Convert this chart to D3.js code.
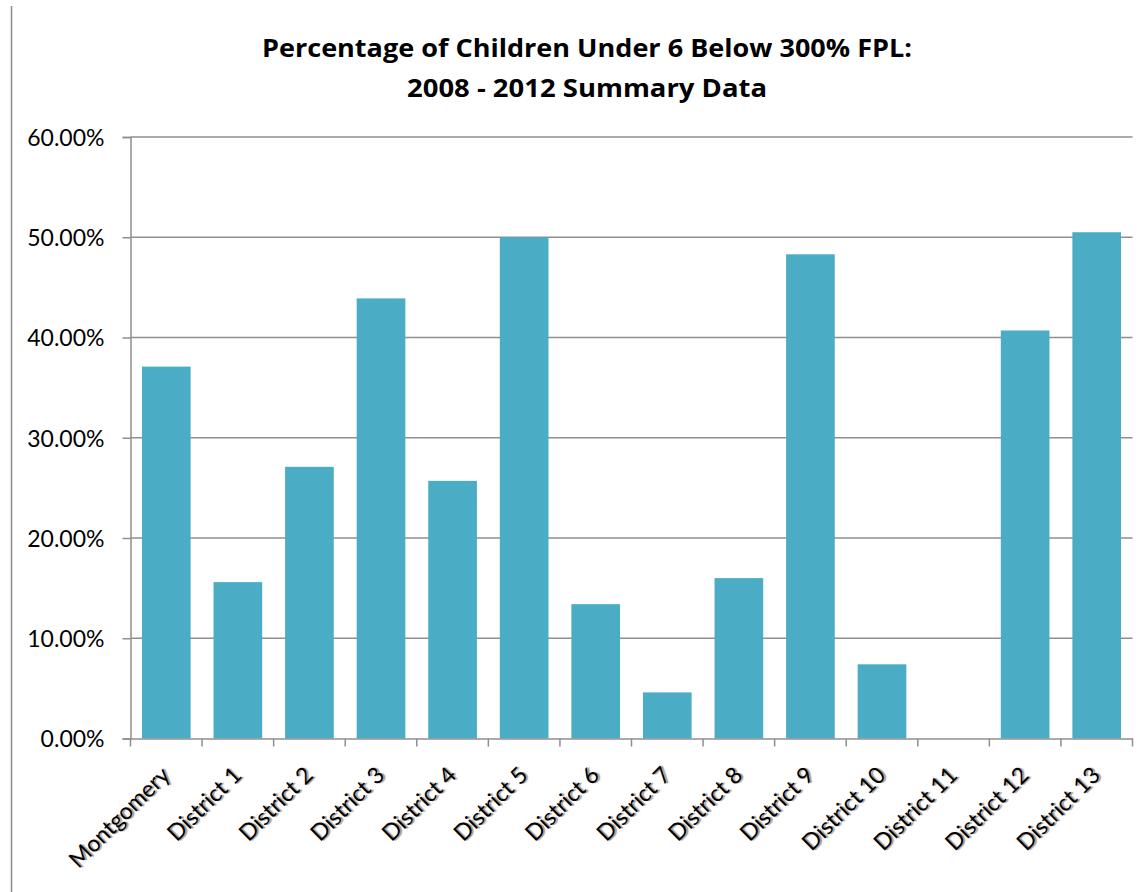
<!DOCTYPE html>
<html><head><meta charset="utf-8">
<script src="https://cdnjs.cloudflare.com/ajax/libs/d3/7.8.5/d3.min.js"></script>
<style>
body{margin:0;background:#fff;}
svg{display:block;}
.xl{text-shadow:1.5px 1.5px 1px rgba(0,0,0,0.4);}
</style></head>
<body><svg id="c" width="1145" height="892"></svg>
<script>
const categories = ["Montgomery","District 1","District 2","District 3","District 4","District 5","District 6","District 7","District 8","District 9","District 10","District 11","District 12","District 13"];
const values = [0.371,0.156,0.271,0.439,0.257,0.500,0.134,0.046,0.160,0.483,0.074,0,0.407,0.505];
const yTicks = [0,0.1,0.2,0.3,0.4,0.5,0.6];
const titleLines = ["Percentage of Children Under 6 Below 300% FPL:","2008 - 2012 Summary Data"];

const svg = d3.select("#c");
const font = "Lato, 'Open Sans', sans-serif";
const m = {left:130.5, right:1132.5, top:137, bottom:738.5};

// outer left border
svg.append("line").attr("x1",11.5).attr("x2",11.5).attr("y1",6).attr("y2",892)
  .attr("stroke","#8c8c8c").attr("stroke-width",1.5);

const x = d3.scaleBand().domain(categories).range([m.left,m.right]).paddingInner(0.32).paddingOuter(0.16);
const y = d3.scaleLinear().domain([0,0.6]).range([m.bottom,m.top]);

// gridlines
svg.append("g").selectAll("line").data(yTicks.filter(d=>d>0)).join("line")
  .attr("x1",m.left).attr("x2",m.right).attr("y1",d=>y(d)).attr("y2",d=>y(d))
  .attr("stroke","#8f8f8f").attr("stroke-width",1.5);

// bars
svg.append("g").selectAll("rect").data(values).join("rect")
  .attr("x",(d,i)=>x(categories[i])).attr("width",x.bandwidth())
  .attr("y",d=>y(d)).attr("height",d=>y(0)-y(d)).attr("fill","#4BACC6");

// y axis
const ya = svg.append("g").attr("transform",`translate(${m.left},0)`)
  .call(d3.axisLeft(y).tickValues(yTicks).tickFormat(d3.format(".2%")).tickSize(8).tickPadding(18));
ya.select(".domain").attr("stroke","#8f8f8f").attr("stroke-width",1.5);
ya.selectAll(".tick line").attr("stroke","#8f8f8f").attr("stroke-width",1.5);
ya.selectAll("text").attr("font-family",font).attr("font-size",23).attr("fill","#000")
  .attr("dy","0.36em");

// x axis
const xa = svg.append("g").attr("transform",`translate(0,${m.bottom})`)
  .call(d3.axisBottom(x).tickSize(0).tickFormat(""));
xa.select(".domain").attr("stroke","#8f8f8f").attr("stroke-width",1.5);
const step = x.step();
const bounds = d3.range(categories.length+1).map(i=>m.left+i*step);
svg.append("g").selectAll("line").data(bounds).join("line")
  .attr("x1",d=>d).attr("x2",d=>d).attr("y1",m.bottom).attr("y2",m.bottom+8)
  .attr("stroke","#8f8f8f").attr("stroke-width",1.5);

svg.append("g").selectAll("text").data(categories).join("text")
  .attr("class","xl")
  .attr("transform",d=>`translate(${x(d)+x.bandwidth()/2+5},${m.bottom+38}) rotate(-45)`)
  .attr("text-anchor","end").attr("font-family",font).attr("font-size",23)
  .attr("fill","#000").text(d=>d);

// title
svg.append("g").selectAll("text").data(titleLines).join("text")
  .attr("x",587).attr("y",(d,i)=>57+i*39.5).attr("text-anchor","middle")
  .attr("font-family","'Open Sans', Lato, sans-serif").attr("font-weight","bold").attr("font-size",25)
  .attr("textLength",(d,i)=>i===0?650:360).attr("lengthAdjust","spacingAndGlyphs")
  .attr("fill","#000").text(d=>d);
</script></body></html>
